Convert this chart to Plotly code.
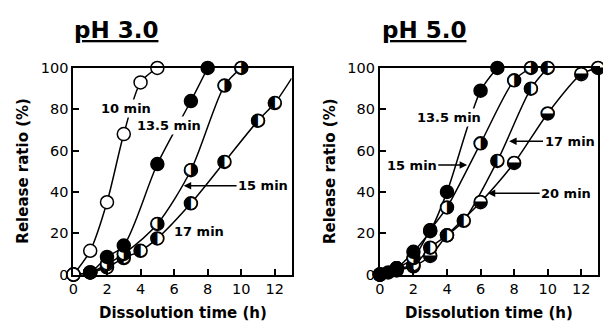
import plotly.graph_objects as go

# ---------------- data ----------------
# pH 3.0 panel
ph3_10_x = [0, 1, 2, 3, 4, 5]
ph3_10_y = [0, 11.5, 35, 68, 93, 100]
ph3_135_x = [0, 1, 2, 3, 5, 7, 8]
ph3_135_y = [0, 1, 8.5, 14, 53.5, 84, 100]
ph3_15_x = [0, 1, 2, 3, 5, 7, 9, 10]
ph3_15_y = [0, 1, 5, 10, 24.5, 50.5, 91.5, 100]
ph3_17_x = [0, 1, 2, 3, 4, 5, 7, 9, 11, 12]
ph3_17_y = [0, 1, 3.5, 8, 11.5, 17.5, 34.5, 54.5, 74.5, 83]
ph3_17_curve_end_x = [13]      # fitted curve continues to the frame
ph3_17_curve_end_y = [95]

# pH 5.0 panel
ph5_135_x = [0, 0.5, 1, 2, 3, 4, 6, 7]
ph5_135_y = [0, 1, 3, 11, 21, 40, 89, 100]
ph5_15_x = [0, 1, 2, 3, 4, 6, 8, 9]
ph5_15_y = [0, 3, 8, 21.5, 32.5, 63.5, 94, 100]
ph5_17_x = [0, 1, 2, 3, 4, 5, 7, 9, 10]
ph5_17_y = [0, 3, 4.5, 13, 19, 26, 55, 90, 100]
ph5_20_x = [0, 1, 2, 3, 4, 6, 8, 10, 12, 13]
ph5_20_y = [0, 2, 4, 9, 19, 35, 54, 78, 97, 100]

x_ticks = [0, 2, 4, 6, 8, 10, 12]
y_ticks = [0, 20, 40, 60, 80, 100]
titles = ["pH 3.0", "pH 5.0"]

# ---------------- styling ----------------
FONT = "DejaVu Sans"
MS = 13
GLYPH_SIZE = 17
LEFT_BLACK = "\u25D0"
RIGHT_BLACK = "\u25D1"
LOWER_BLACK = "\u25D2"

fig = go.Figure()


def add_line(x, y, xa, ya):
    fig.add_trace(go.Scatter(x=x, y=y, mode="lines", xaxis=xa, yaxis=ya,
                             line=dict(color="black", width=1.5, shape="spline", smoothing=0.8),
                             hoverinfo="skip", showlegend=False, cliponaxis=False))


def add_markers(x, y, xa, ya, kind):
    if kind == "open":
        m = dict(symbol="circle", size=MS, color="white", line=dict(color="black", width=1.5))
        fig.add_trace(go.Scatter(x=x, y=y, mode="markers", xaxis=xa, yaxis=ya, marker=m,
                                 showlegend=False, cliponaxis=False))
    elif kind == "filled":
        m = dict(symbol="circle", size=MS, color="black", line=dict(color="black", width=1.5))
        fig.add_trace(go.Scatter(x=x, y=y, mode="markers", xaxis=xa, yaxis=ya, marker=m,
                                 showlegend=False, cliponaxis=False))
    else:
        m = dict(symbol="circle", size=MS, color="white", line=dict(color="black", width=1.5))
        fig.add_trace(go.Scatter(x=x, y=y, mode="markers+text", xaxis=xa, yaxis=ya, marker=m,
                                 text=[kind] * len(x), textposition="middle center",
                                 textfont=dict(family=FONT, size=GLYPH_SIZE, color="black"),
                                 showlegend=False, cliponaxis=False))


# pH 3.0 lines
add_line(ph3_10_x, ph3_10_y, "x", "y")
add_line(ph3_135_x, ph3_135_y, "x", "y")
add_line(ph3_15_x, ph3_15_y, "x", "y")
add_line(ph3_17_x + ph3_17_curve_end_x, ph3_17_y + ph3_17_curve_end_y, "x", "y")
# pH 3.0 markers
add_markers(ph3_17_x, ph3_17_y, "x", "y", LEFT_BLACK)
add_markers(ph3_15_x, ph3_15_y, "x", "y", RIGHT_BLACK)
add_markers(ph3_135_x, ph3_135_y, "x", "y", "filled")
add_markers(ph3_10_x, ph3_10_y, "x", "y", "open")

# pH 5.0 lines
add_line(ph5_135_x, ph5_135_y, "x2", "y2")
add_line(ph5_15_x, ph5_15_y, "x2", "y2")
add_line(ph5_17_x, ph5_17_y, "x2", "y2")
add_line(ph5_20_x, ph5_20_y, "x2", "y2")
# pH 5.0 markers
add_markers(ph5_20_x, ph5_20_y, "x2", "y2", LOWER_BLACK)
add_markers(ph5_17_x, ph5_17_y, "x2", "y2", LEFT_BLACK)
add_markers(ph5_15_x, ph5_15_y, "x2", "y2", RIGHT_BLACK)
add_markers(ph5_135_x, ph5_135_y, "x2", "y2", "filled")

tickfont = dict(family=FONT, size=14.5, color="black")
xcommon = dict(range=[0, 13], tickvals=x_ticks, ticks="inside", ticklen=6, tickwidth=1.5,
               tickcolor="black", showline=True, linecolor="black", linewidth=2, mirror=True,
               showgrid=False, zeroline=False, tickfont=tickfont, fixedrange=True)
ycommon = dict(range=[0, 100], tickvals=y_ticks, ticks="inside", ticklen=6, tickwidth=1.5,
               tickcolor="black", showline=True, linecolor="black", linewidth=2, mirror=True,
               showgrid=False, zeroline=False, tickfont=tickfont, fixedrange=True)

ydom = [53 / 333, 270 / 333]
fig.update_layout(
    width=603, height=333, margin=dict(l=0, r=0, t=0, b=0),
    paper_bgcolor="white", plot_bgcolor="white",
    xaxis=dict(domain=[69 / 603, 289 / 603], anchor="y", **xcommon),
    yaxis=dict(domain=ydom, anchor="x", **ycommon),
    xaxis2=dict(domain=[378 / 603, 598 / 603], anchor="y2", **xcommon),
    yaxis2=dict(domain=ydom, anchor="x2", **ycommon),
    showlegend=False,
)

ann = []
lab_font = dict(family=FONT, size=13, color="black")
C = dict(xanchor="center", yanchor="middle")
# panel titles
for t, xc in zip(titles, [112 / 603, 422 / 603]):
    ann.append(dict(text="<b><u>" + t + "</u></b>", x=xc, y=1 - 23 / 333, xref="paper", yref="paper",
                    showarrow=False, font=dict(family=FONT, size=23, color="black"), **C))
# axis titles
for xc in [179 / 603, 488 / 603]:
    ann.append(dict(text="<b>Dissolution time (h)</b>", x=xc, y=1 - 320 / 333, xref="paper",
                    yref="paper", showarrow=False, font=dict(family=FONT, size=15, color="black"), **C))
for xc in [18 / 603, 328 / 603]:
    ann.append(dict(text="<b>Release ratio (%)</b>", x=xc, y=1 - 171 / 333, xref="paper",
                    yref="paper", showarrow=False, textangle=-90,
                    font=dict(family=FONT, size=15, color="black"), **C))

# curve labels
def label(text, x, y, xr, yr, bg=None):
    d = dict(text="<b>" + text + "</b>", x=x, y=y, xref=xr, yref=yr, showarrow=False, font=lab_font,
             borderpad=1, **C)
    if bg:
        d["bgcolor"] = bg
    ann.append(d)


def arrow_label(text, tx, ty, hx, hy, xr, yr):
    ann.append(dict(text="<b>" + text + "</b>", x=hx, y=hy, ax=tx, ay=ty, xref=xr, yref=yr,
                    axref=xr, ayref=yr, showarrow=True, arrowhead=2, arrowsize=1, arrowwidth=1.5,
                    arrowcolor="black", font=lab_font, standoff=0, borderpad=1))


label("10 min", 3.14, 80.6, "x", "y", "white")
label("13.5 min", 5.71, 72.1, "x", "y", "white")
arrow_label("15 min", 11.3, 43, 6.57, 43, "x", "y")
label("17 min", 7.46, 20.7, "x", "y")

label("13.5 min", 4.14, 76, "x2", "y2", "white")
arrow_label("15 min", 1.9, 53, 5.2, 53, "x2", "y2")
arrow_label("17 min", 11.3, 64.5, 7.7, 64.5, "x2", "y2")
arrow_label("20 min", 11.1, 39.3, 6.43, 39.3, "x2", "y2")

fig.update_layout(annotations=ann)
fig.write_html("out.html", config={"displayModeBar": False},
               post_script="document.body.style.margin='0';document.body.style.overflow='hidden';")
